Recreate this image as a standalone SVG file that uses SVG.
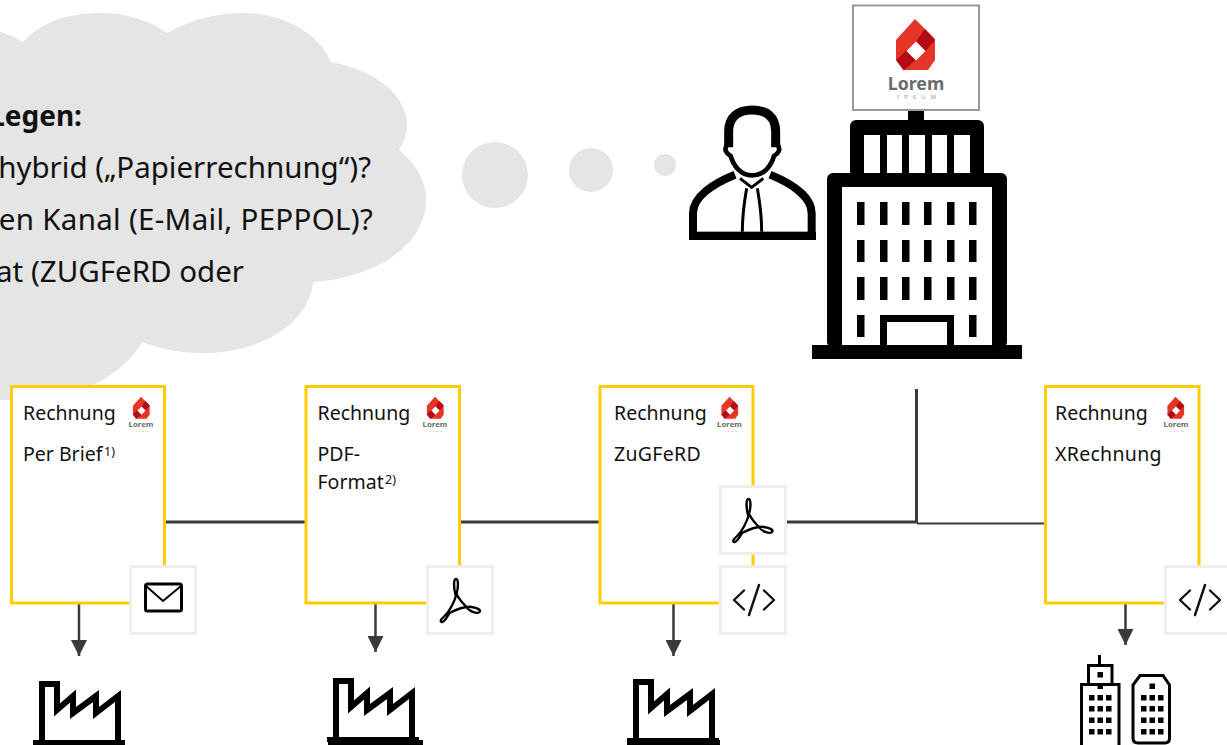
<svg xmlns="http://www.w3.org/2000/svg" width="1227" height="745" viewBox="0 0 1227 745">
<style>
text{font-family:"Noto Sans","Open Sans","Liberation Sans",sans-serif;fill:#111}
.big{font-size:29.500px}
.t{font-size:19.500px}
.w{letter-spacing:.3px}
.sup{font-size:12.500px}
.card{fill:#fff;stroke:#FFCC00;stroke-width:3}
.box{fill:#fff;stroke:#EEEEEE;stroke-width:3}
.ln{stroke:#3a3a3a;stroke-width:3;fill:none}
.ar{stroke:#3a3a3a;stroke-width:2.500;fill:none;marker-end:url(#arrow)}
.bub{fill:#E5E5E5}
.lorem{fill:#6b6b6b;font-weight:700;text-anchor:middle}
.ips{fill:#999;text-anchor:middle}
.code{fill:none;stroke:#111;stroke-width:2.400;stroke-linecap:round;stroke-linejoin:round}
.fac{fill:none;stroke:#000;stroke-width:6;stroke-miterlimit:10}
</style>
<defs>
<marker id="arrow" markerUnits="userSpaceOnUse" markerWidth="16" markerHeight="16" refX="16" refY="8" orient="auto">
<path d="M0,0L16,8L0,16Z" fill="#3a3a3a"/>
</marker>
<g id="logo">
<polygon points="-1,-26 19,-6 19,15 12,25 -13,25 -20,15 -20,-5" fill="#E53528"/>
<polygon points="9,-16 19,-5 9.500,6 0,-3.500" fill="#B00B16"/>
<polygon points="-20,15 -9.500,5.500 0,15 -12,25" fill="#B00B16"/>
<polygon points="0,-3.500 9.500,6 0,15.500 -9.500,6" fill="#fff"/>
</g>
<g id="factory">
<path class="fac" d="M42,743V684H57V710L73,696V713L96,696V713L118,696V743"/>
<path d="M33,740H125V745H33Z" fill="#000"/>
</g>
<path id="pdf" d="M-4,-5C-6,-13 -6,-21 -3.500,-21C-1,-21 -1,-13 -3,-6C-5,2 -10,11 -14,15C-18,19 -20,21 -18,22C-15,23 -12,16 -10,13C-2,9 6,6 12,7C18,8 22,10 20,12C18,14 10,12 7,7C3,3 -1,-2 -3,-6" fill="none" stroke="#000" stroke-width="2.400"/>
<g id="code">
<path class="code" d="M-10,-9.500L-20,0L-10,9.500M10,-9.500L20,0L10,9.500M5,-15L-5,15"/>
</g>
</defs>

<g id="thought-cloud">
<path class="bub" d="M-5,30C5,33 15,37 23,42C40,22 70,13 100,13C125,13 150,20 167,33C190,20 215,13 243,13C285,13 320,35 331,62C375,70 407,95 407,125C407,135 403,143 399,150C415,163 426,180 426,200C426,245 375,278 313,282C310,320 265,353 203,353C180,353 160,349 142,342C125,372 85,395 40,400L-5,400Z"/>
<circle class="bub" cx="495" cy="175" r="33"/>
<circle class="bub" cx="591" cy="170" r="22"/>
<circle class="bub" cx="665" cy="165" r="11"/>
<text x="82" y="126" text-anchor="end" font-weight="700" font-size="28">Legen:</text>
<text class="big" x="371" y="178" text-anchor="end">hybrid („Papierrechnung“)?</text>
<text class="big" x="373" y="230" text-anchor="end" style="letter-spacing:.3px">en Kanal (E-Mail, PEPPOL)?</text>
<text class="big" x="244" y="282" text-anchor="end">at (ZUGFeRD oder</text>
</g>

<g id="person" transform="translate(680,0) scale(.33333)">
<path d="M146,442V395C146,350 175,330 217,330C259,330 287,350 287,395V442" fill="none" stroke="#000" stroke-width="27"/>
<path d="M140,436C132,448 138,460 152,468C160,495 180,526 217,526C254,526 274,495 282,468C296,460 302,448 294,436" fill="none" stroke="#000" stroke-width="14"/>
<path d="M39,708V640C39,590 100,550 165,524M395,708V640C395,590 334,550 270,524" fill="none" stroke="#000" stroke-width="24"/>
<rect x="27" y="695" width="381" height="25" fill="#000"/>
<path d="M180,535L215,562L250,535M200,565C192,610 187,650 187,695M232,565C240,610 245,650 245,695" fill="none" stroke="#000" stroke-width="9"/>
</g>

<g id="building">
<rect x="908" y="108" width="16" height="14" fill="#000"/>
<rect x="850" y="120" width="134" height="60" rx="6" fill="#000"/>
<rect x="827" y="173" width="180" height="175" rx="6" fill="#000"/>
<rect x="842" y="187" width="150" height="160" fill="#fff"/>
<rect x="812" y="345" width="210" height="14" fill="#000"/>
<g fill="#fff">
<rect x="864" y="135" width="16" height="38"/><rect x="887" y="135" width="15" height="38"/><rect x="909" y="135" width="16" height="38"/><rect x="932" y="135" width="15" height="38"/><rect x="954" y="135" width="16" height="38"/>
</g>
<g fill="#000">
<rect x="857" y="202" width="7.500" height="23"/><rect x="880" y="202" width="7.500" height="23"/><rect x="902" y="202" width="7.500" height="23"/><rect x="924" y="202" width="7.500" height="23"/><rect x="947" y="202" width="7.500" height="23"/><rect x="969" y="202" width="7.500" height="23"/>
<rect x="857" y="240" width="7.500" height="22"/><rect x="880" y="240" width="7.500" height="22"/><rect x="902" y="240" width="7.500" height="22"/><rect x="924" y="240" width="7.500" height="22"/><rect x="947" y="240" width="7.500" height="22"/><rect x="969" y="240" width="7.500" height="22"/>
<rect x="857" y="277" width="7.500" height="23"/><rect x="880" y="277" width="7.500" height="23"/><rect x="902" y="277" width="7.500" height="23"/><rect x="924" y="277" width="7.500" height="23"/><rect x="947" y="277" width="7.500" height="23"/><rect x="969" y="277" width="7.500" height="23"/>
<rect x="857" y="315" width="7.500" height="22"/><rect x="969" y="315" width="7.500" height="22"/>
</g>
<path d="M883.500,347V318.500H950.500V347" fill="none" stroke="#000" stroke-width="7"/>
</g>

<g id="company-sign">
<rect x="853" y="5.500" width="126" height="104.500" fill="#fff" stroke="#999" stroke-width="2"/>
<use href="#logo" x="916" y="45"/>
<text class="lorem" x="916" y="89.500" font-size="17.800">Lorem</text>
<text class="ips" x="919" y="98.500" font-size="6" letter-spacing="5">IPSUM</text>
</g>

<g id="connectors">
<path class="ln" d="M165,522H305M460,522H600M787,522H917"/>
<path class="ln" d="M917,523.500H1045" style="stroke-width:2"/>
<path class="ln" d="M916.500,389V523"/>
<path class="ar" d="M79,604V656"/>
<path class="ar" d="M375.500,604V652"/>
<path class="ar" d="M673.500,604V656"/>
<path class="ar" d="M1125.500,604V645"/>
</g>

<g id="card-brief">
<rect class="card" x="11.500" y="386.500" width="153" height="216.500"/>
<text class="t" x="23" y="420">Rechnung</text>
<use href="#logo" transform="translate(141.500,408) scale(.43)"/>
<text class="lorem" x="141" y="426.500" font-size="7.800">Lorem</text>
<text class="ips" x="141.500" y="431.500" font-size="2.500" letter-spacing="2">IPSUM</text>
<text class="t" x="23" y="461">Per Brief</text>
<text class="sup" x="104" y="456">1)</text>
<rect class="box" x="130.500" y="566.500" width="65" height="67"/>
<rect x="145.500" y="584" width="36" height="27" rx="2" fill="none" stroke="#000" stroke-width="3"/>
<path d="M146,586L163,601L181,586" fill="none" stroke="#000" stroke-width="2"/>
</g>

<g id="card-pdf">
<rect class="card" x="306" y="386.500" width="153.500" height="216.500"/>
<text class="t" x="317.500" y="420">Rechnung</text>
<use href="#logo" transform="translate(435.500,408) scale(.43)"/>
<text class="lorem" x="435" y="426.500" font-size="7.800">Lorem</text>
<text class="ips" x="435.500" y="431.500" font-size="2.500" letter-spacing="2">IPSUM</text>
<text class="t" x="317.500" y="461">PDF-</text>
<text class="t" x="317.500" y="489">Format</text>
<text class="sup" x="385" y="484">2)</text>
<rect class="box" x="427.500" y="566.500" width="65" height="67"/>
<use href="#pdf" x="459.500" y="600"/>
</g>

<g id="card-zugferd">
<rect class="card" x="600" y="386.500" width="153" height="216.500"/>
<text class="t" x="614" y="420">Rechnung</text>
<use href="#logo" transform="translate(730,408) scale(.43)"/>
<text class="lorem" x="729.500" y="426.500" font-size="7.800">Lorem</text>
<text class="ips" x="730" y="431.500" font-size="2.500" letter-spacing="2">IPSUM</text>
<text class="t w" x="614" y="461">ZuGFeRD</text>
<rect class="box" x="720.500" y="486.500" width="65" height="67"/>
<use href="#pdf" x="752" y="520"/>
<rect class="box" x="720.500" y="566.500" width="65" height="67"/>
<use href="#code" x="754" y="600"/>
</g>

<g id="card-xrechnung">
<rect class="card" x="1045.500" y="386.500" width="153.500" height="216.500"/>
<text class="t" x="1055" y="420">Rechnung</text>
<use href="#logo" transform="translate(1176,408) scale(.43)"/>
<text class="lorem" x="1176" y="426.500" font-size="7.800">Lorem</text>
<text class="ips" x="1176.500" y="431.500" font-size="2.500" letter-spacing="2">IPSUM</text>
<text class="t w" x="1055" y="461">XRechnung</text>
<rect class="box" x="1165.500" y="566.500" width="67" height="67"/>
<use href="#code" x="1200" y="600"/>
</g>

<g id="factory-1"><use href="#factory"/></g>
<g id="factory-2"><use href="#factory" transform="translate(294,-3)"/><rect x="328" y="740" width="95" height="5"/></g>
<g id="factory-3"><use href="#factory" transform="translate(594,-2)"/><rect x="627" y="740" width="93" height="5"/></g>

<g id="office-buildings">
<path d="M1099.500,655V665M1088.500,684V665.500H1112V684M1081.500,746V684.500H1119V746" fill="none" stroke="#000" stroke-width="3"/>
<path d="M1133,738V685L1140,675.500H1163L1169.500,685V738Q1169.500,743 1165,743H1138Q1133,743 1133,738Z" fill="none" stroke="#000" stroke-width="3"/>
<g fill="#000">
<rect x="1097.500" y="672" width="5.500" height="5.500"/><rect x="1097.500" y="683.500" width="5.500" height="5.500"/>
<rect x="1149.500" y="683.500" width="5.500" height="5.500"/>
<path d="M1089,695h5.500v5.500h-5.500zM1097.500,695h5.500v5.500h-5.500zM1106,695h5.500v5.500h-5.500zM1089,706h5.500v5.500h-5.500zM1097.500,706h5.500v5.500h-5.500zM1106,706h5.500v5.500h-5.500zM1089,717.500h5.500v5.500h-5.500zM1097.500,717.500h5.500v5.500h-5.500zM1106,717.500h5.500v5.500h-5.500zM1089,729h5.500v5.500h-5.500zM1097.500,729h5.500v5.500h-5.500zM1106,729h5.500v5.500h-5.500z"/>
<path d="M1141,695h5.500v5.500h-5.500zM1149.500,695h5.500v5.500h-5.500zM1158,695h5.500v5.500h-5.500zM1141,706h5.500v5.500h-5.500zM1149.500,706h5.500v5.500h-5.500zM1158,706h5.500v5.500h-5.500zM1141,717.500h5.500v5.500h-5.500zM1149.500,717.500h5.500v5.500h-5.500zM1158,717.500h5.500v5.500h-5.500zM1141,729h5.500v5.500h-5.500zM1149.500,729h5.500v5.500h-5.500zM1158,729h5.500v5.500h-5.500z"/>
</g>
</g>
</svg>
